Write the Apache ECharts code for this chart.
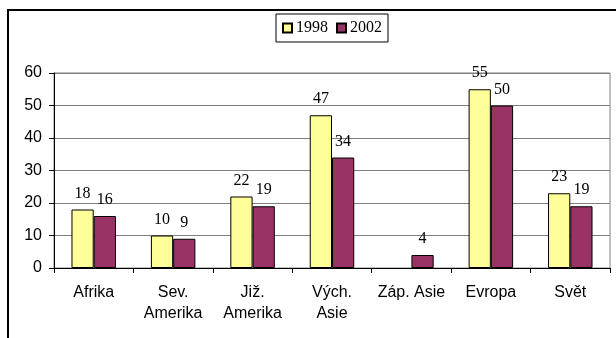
<!DOCTYPE html>
<html>
<head>
<meta charset="utf-8">
<script src="https://cdn.jsdelivr.net/npm/echarts@6/dist/echarts.min.js"></script>
<style>
  html, body { margin: 0; padding: 0; background: #fff; }
  #chart { width: 616px; height: 338px; }
</style>
</head>
<body>
<div id="chart"></div>
<script>
// Regions shown along the category axis
const categories = ['Afrika', 'Sev.\nAmerika', 'Již.\nAmerika', 'Vých.\nAsie', 'Záp. Asie', 'Evropa', 'Svět'];
// Values per year (null = no value reported)
const values1998 = [18, 10, 22, 47, null, 55, 23];
const values2002 = [16, 9, 19, 34, 4, 50, 19];
const seriesNames = ['1998', '2002'];
const yTicks = { min: 0, max: 60, interval: 10 };

const chart = echarts.init(document.getElementById('chart'), null, { renderer: 'canvas' });

const serif = '"Liberation Serif", "Times New Roman", serif';
const sans = '"Liberation Sans", Arial, sans-serif';

const valueLabel = {
  show: true,
  position: 'top',
  distance: 8,
  color: '#000',
  fontFamily: serif,
  fontSize: 16
};

chart.setOption({
  animation: false,
  backgroundColor: '#fff',
  graphic: [{
    type: 'rect',
    shape: { x: 8, y: 10, width: 700, height: 400 },
    style: { fill: 'none', stroke: '#000', lineWidth: 2 },
    silent: true,
    z: 100
  }],
  legend: {
    top: 14,
    left: 276,
    data: seriesNames,
    itemWidth: 9,
    itemHeight: 9,
    itemGap: 8,
    padding: [6, 6, 6, 6],
    borderColor: '#000',
    borderWidth: 1,
    backgroundColor: '#fff',
    icon: 'rect',
    textStyle: {
      fontFamily: serif,
      fontSize: 16,
      color: '#000',
      padding: [0, 0, 0, -1]
    }
  },
  grid: {
    left: 54,
    right: 6,
    top: 73,
    bottom: 70,
    show: true,
    borderColor: '#808080',
    borderWidth: 1
  },
  xAxis: {
    type: 'category',
    data: categories,
    axisLine: { lineStyle: { color: '#000', width: 1 } },
    axisTick: { show: true, length: 5, lineStyle: { color: '#000' } },
    axisLabel: {
      interval: 0,
      margin: 14,
      color: '#000',
      fontFamily: sans,
      fontSize: 16,
      lineHeight: 21
    }
  },
  yAxis: {
    type: 'value',
    min: yTicks.min,
    max: yTicks.max,
    interval: yTicks.interval,
    axisLine: { show: true, lineStyle: { color: '#000', width: 1 } },
    axisTick: { show: true, length: 5, lineStyle: { color: '#000' } },
    splitLine: { lineStyle: { color: '#808080', width: 1 } },
    axisLabel: {
      margin: 12,
      color: '#000',
      fontFamily: sans,
      fontSize: 16
    }
  },
  series: [
    {
      name: seriesNames[0],
      type: 'bar',
      data: values1998,
      barGap: '0%',
      barCategoryGap: '44%',
      itemStyle: { color: '#FFFF99', borderColor: '#000', borderWidth: 1 },
      label: valueLabel
    },
    {
      name: seriesNames[1],
      type: 'bar',
      data: values2002,
      barGap: '0%',
      barCategoryGap: '44%',
      itemStyle: { color: '#993366', borderColor: '#000', borderWidth: 1 },
      label: valueLabel
    }
  ]
});
</script>
</body>
</html>
